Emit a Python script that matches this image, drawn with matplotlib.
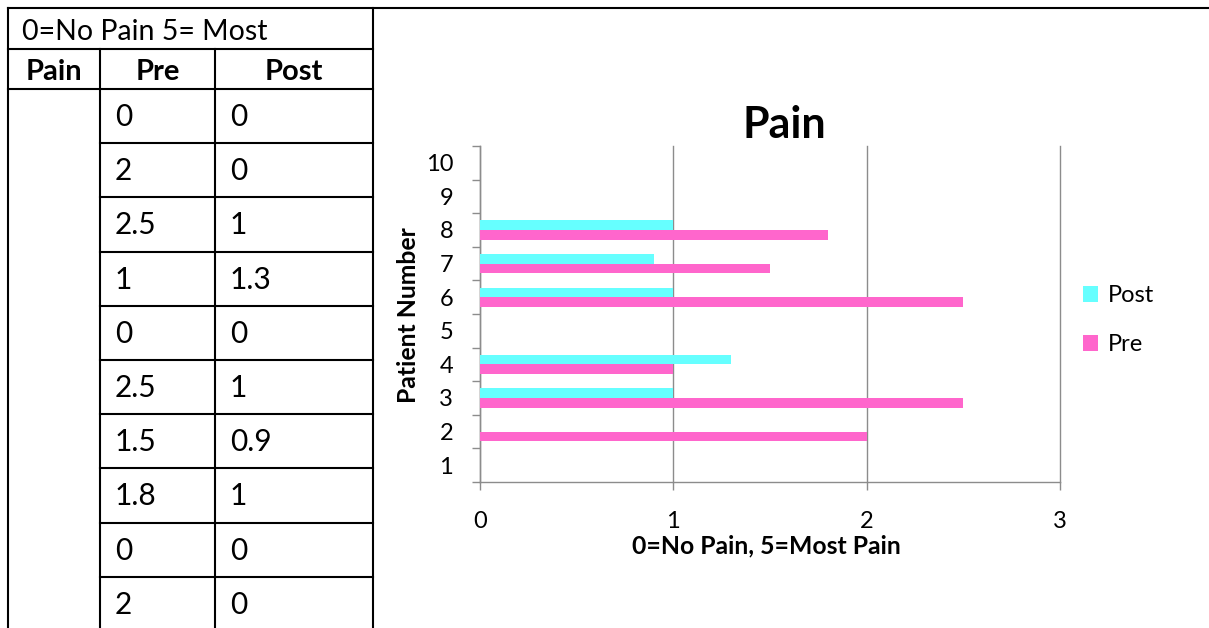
import matplotlib
matplotlib.use("Agg")
import matplotlib.pyplot as plt
from matplotlib.lines import Line2D
import numpy as np

# ---------------- data ----------------
table_note = "0=No Pain 5= Most"
table_headers = ["Pain", "Pre", "Post"]
table_pre = ["0", "2", "2.5", "1", "0", "2.5", "1.5", "1.8", "0", "2"]
table_post = ["0", "0", "1", "1.3", "0", "1", "0.9", "1", "0", "0"]

patients = [1, 2, 3, 4, 5, 6, 7, 8, 9, 10]
chart_pre = [0, 2, 2.5, 1, 0, 2.5, 1.5, 1.8, 0, 0]
chart_post = [0, 0, 1, 1.3, 0, 1, 0.9, 1, 0, 0]
x_ticks = [0, 1, 2, 3]

title = "Pain"
x_label = "0=No Pain, 5=Most Pain"
y_label = "Patient Number"

# ---------------- style ----------------
W, H = 1209, 628
FONT = "Lato"
plt.rcParams["font.family"] = [FONT, "DejaVu Sans"]
CYAN = "#66FFFF"
PINK = "#FF66CC"
GRID = "#8C8C8C"

fig = plt.figure(figsize=(W / 100, H / 100), dpi=100)
fig.patch.set_facecolor("white")


def fx(x):
    return x / W


def fy(y):
    return 1 - y / H


def hline(y, x0, x1, lw=1.5):
    fig.add_artist(Line2D([fx(x0), fx(x1)], [fy(y), fy(y)], color="black",
                          lw=lw, transform=fig.transFigure, solid_capstyle="projecting"))


def vline(x, y0, y1, lw=1.5):
    fig.add_artist(Line2D([fx(x), fx(x)], [fy(y0), fy(y1)], color="black",
                          lw=lw, transform=fig.transFigure, solid_capstyle="projecting"))


# ---------------- table ----------------
col_x = [8, 100, 215, 373]
row_top = 89
row_h = 54.2

hline(8, 8, W)
hline(49, 8, 373)
hline(89, 8, 373)
for k in range(1, len(table_pre)):
    hline(row_top + k * row_h, 100, 373)
vline(8, 8, H + 2)
vline(100, 49, H + 2)
vline(215, 49, H + 2)
vline(373, 8, H + 2)

fig.text(fx(22), fy(40), table_note, fontsize=20.5, ha="left", va="baseline")
for i, hdr in enumerate(table_headers):
    cx = (col_x[i] + col_x[i + 1]) / 2
    fig.text(fx(cx), fy(80), hdr, fontsize=21, fontweight="bold",
             ha="center", va="baseline")
for k, (a, b) in enumerate(zip(table_pre, table_post)):
    base = row_top + k * row_h + 37
    fig.text(fx(115), fy(base), a, fontsize=21.5, ha="left", va="baseline")
    fig.text(fx(230), fy(base), b, fontsize=21.5, ha="left", va="baseline")

# ---------------- chart ----------------
ax_l, ax_r, ax_t, ax_b = 480, 1060, 146, 482
ax = fig.add_axes([fx(ax_l), fy(ax_b), (ax_r - ax_l) / W, (ax_b - ax_t) / H])
y = np.array(patients, dtype=float)
bh = 0.285
ax.barh(y - bh / 2, chart_pre, height=bh, color=PINK, linewidth=0, label="Pre", zorder=3)
ax.barh(y + bh / 2, chart_post, height=bh, color=CYAN, linewidth=0, label="Post", zorder=3)

ax.set_xlim(0, 3)
ax.set_ylim(0.5, 10.5)
ax.set_xticks(x_ticks)
ax.set_yticks(patients)
ax.set_yticks(np.arange(0.5, 11, 1), minor=True)
ax.tick_params(axis="y", which="major", length=0, pad=19.4, labelsize=17)
ax.tick_params(axis="y", which="minor", length=5.8, width=1, color=GRID, direction="out")
ax.tick_params(axis="x", which="major", length=5.8, width=1, color=GRID, direction="out",
               pad=15, labelsize=17)
ax.grid(axis="x", color=GRID, lw=1, zorder=0)
for gl in ax.get_xgridlines():
    gl.set_clip_on(False)
for s in ["top", "right"]:
    ax.spines[s].set_visible(False)
for s in ["left", "bottom"]:
    ax.spines[s].set_color(GRID)
    ax.spines[s].set_linewidth(1)

fig.text(fx(784), fy(138), title, fontsize=31, fontweight="bold", ha="center", va="baseline")
fig.text(fx(766), fy(553), x_label, fontsize=17.8, fontweight="bold", ha="center", va="baseline")
fig.text(fx(409), fy(315), y_label, fontsize=17.8, fontweight="bold", rotation=90,
         ha="center", va="center")

handles, labels = ax.get_legend_handles_labels()
leg = ax.legend(handles[::-1], labels[::-1], loc="upper left",
                bbox_to_anchor=(fx(1083), fy(285)), bbox_transform=fig.transFigure,
                frameon=False, fontsize=17, handlelength=0.65, handleheight=0.65,
                handletextpad=0.4, labelspacing=1.2, borderpad=0, borderaxespad=0)

fig.savefig("out.png", dpi=100, facecolor="white")
